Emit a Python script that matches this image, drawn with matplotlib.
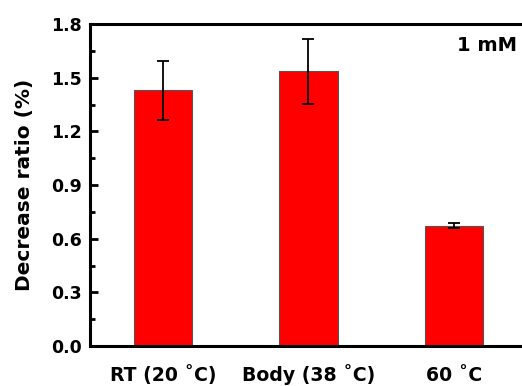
import numpy as np
import matplotlib
matplotlib.use("Agg")
from matplotlib import pyplot as plt
from matplotlib.ticker import MultipleLocator

categories = ["RT (20 \u02daC)", "Body (38 \u02daC)", "60 \u02daC"]
values = [1.43, 1.535, 0.672]
errors = [0.165, 0.18, 0.014]
yticks = [0.0, 0.3, 0.6, 0.9, 1.2, 1.5, 1.8]

plt.rcParams['font.family'] = ['DejaVu Sans']

fig = plt.figure(figsize=(5.22, 3.86), dpi=100)
ax = fig.add_axes([0.1724, 0.1036, 0.837, 0.834])

x = np.arange(1, len(values) + 1)
ax.bar(x, values, width=0.4, color='#ff0000', edgecolor='#555555', linewidth=0.8, zorder=2)
ax.errorbar(x, values, yerr=errors, fmt='none', ecolor='black', elinewidth=1.3,
            capsize=4.5, capthick=1.3, zorder=3)

ax.set_xlim(0.5, 3.5)
ax.set_ylim(0, 1.8)
ax.set_yticks(yticks)
ax.set_yticklabels([f"{v:.1f}" for v in yticks])
ax.yaxis.set_minor_locator(MultipleLocator(0.15))
ax.set_xticks(x)
ax.set_xticklabels(categories)

for s in ax.spines.values():
    s.set_linewidth(2.2)

ax.tick_params(axis='y', which='major', direction='in', length=6, width=2, labelsize=12.5, pad=6)
ax.tick_params(axis='y', which='minor', direction='in', length=3.5, width=2)
ax.tick_params(axis='x', which='both', length=0, labelsize=13.6, pad=25)
for lab in ax.get_xticklabels():
    lab.set_fontweight('bold')
    lab.set_verticalalignment('baseline')
for lab in ax.get_yticklabels():
    lab.set_fontweight('bold')

ax.set_ylabel("Decrease ratio (%)", fontsize=14.5, fontweight='bold', labelpad=12)
fig.text(0.990, 0.881, "1 mM", ha='right', va='center', fontsize=14, fontweight='bold')

fig.savefig("out.png", dpi=100)
